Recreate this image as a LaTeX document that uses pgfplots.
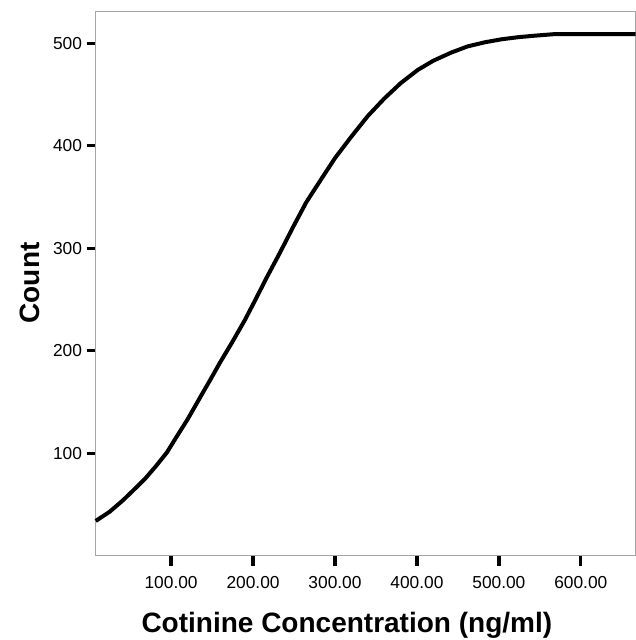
\documentclass[border=0pt]{standalone}
\usepackage{pgfplots}
\pgfplotsset{compat=1.18}
\usepackage{fontspec}
\setmainfont{Liberation Sans}

\begin{document}
\begin{tikzpicture}

\begin{axis}[
    scale only axis,
    width=405pt,
    height=408pt,
    xmin=8, xmax=667,
    ymin=0.8, ymax=531.5,
    axis line style={gray!70, line width=0.4pt},
    tick align=outside,
    xtick pos=bottom,
    ytick pos=left,
    xtick={100,200,300,400,500,600},
    ytick={100,200,300,400,500},
    xtick style={black, line width=2.5pt, /pgfplots/major tick length=8pt},
    ytick style={black, line width=2.5pt, /pgfplots/major tick length=6.75pt},
    xticklabel style={yshift=-8pt, /pgf/number format/.cd, fixed, fixed zerofill, precision=2, 1000 sep={}},
    yticklabel style={xshift=-2.5pt},
    /pgf/number format/assume math mode=true,
    tick label style={font=\fontsize{13}{15}\selectfont},
    xlabel={Cotinine Concentration (ng/ml)},
    ylabel={Count},
    label style={font=\fontsize{21}{24}\selectfont\bfseries},
    xlabel style={at={(axis description cs:0.465,-0.129)}, anchor=center},
    ylabel style={at={(axis description cs:-0.122,0.5)}, anchor=center, rotate=0},
    clip=false
]

% cumulative count
\addplot[black, line width=3pt, line join=round] coordinates {
    (8, 34) (25, 43) (41, 54) (54, 64) (68, 75) (82, 88) (95, 101)
    (105, 114) (120, 133) (135, 154) (148, 172) (160, 189) (175, 209)
    (190, 230) (203, 250) (217, 272) (233, 296) (249, 321) (265, 345)
    (282, 366) (300, 388) (320, 409) (340, 429) (360, 446) (380, 461)
    (401, 474) (420, 483) (442, 491) (462, 497) (483, 501) (504, 504)
    (524, 506) (545, 507.5) (569, 509) (620, 509) (667, 509)
};

\coordinate (sw) at (rel axis cs:0,0);
\coordinate (ne) at (rel axis cs:1,1);
\end{axis}

\pgfresetboundingbox
\path[use as bounding box] ([xshift=-71.8pt,yshift=-63.75pt]sw) rectangle ([yshift=8.25pt]ne);

\end{tikzpicture}
\end{document}
